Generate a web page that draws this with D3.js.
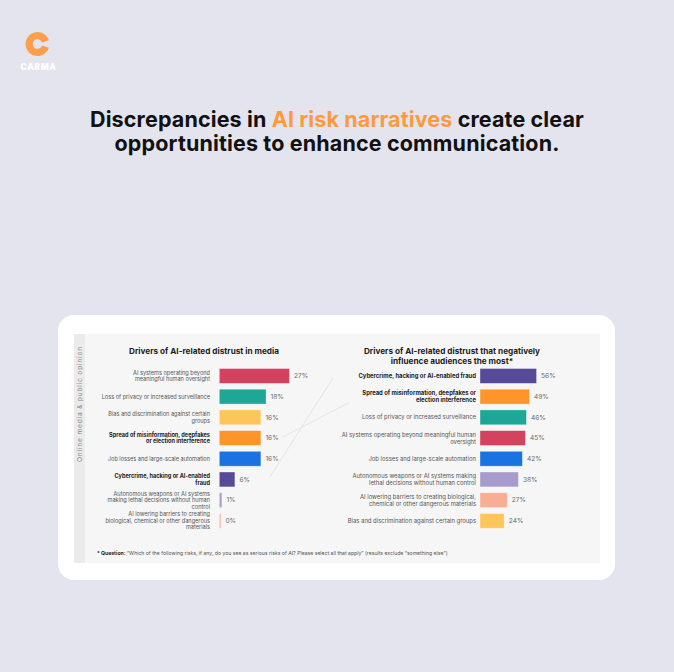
<!DOCTYPE html>
<html><head><meta charset="utf-8">
<script src="https://cdn.jsdelivr.net/npm/d3@7"></script>
<style>
html,body{margin:0;padding:0;background:#e4e4ef;}
svg{display:block;font-family:Inter,"Open Sans",sans-serif;}
</style></head>
<body>
<svg id="c" width="674" height="672"></svg>
<script>
// ---------- data ----------
const leftCategories = [
  "AI systems operating beyond\nmeaningful human oversight",
  "Loss of privacy or increased surveillance",
  "Bias and discrimination against certain\ngroups",
  "Spread of misinformation, deepfakes\nor election interference",
  "Job losses and large-scale automation",
  "Cybercrime, hacking or AI-enabled\nfraud",
  "Autonomous weapons or AI systems\nmaking lethal decisions without human\ncontrol",
  "AI lowering barriers to creating\nbiological, chemical or other dangerous\nmaterials"
];
const leftKeys = ["oversight","privacy","bias","misinfo","jobs","cyber","weapons","barriers"];
const leftValues = [27, 18, 16, 16, 16, 6, 1, 0];
const leftBold = [false, false, false, true, false, true, false, false];

const rightCategories = [
  "Cybercrime, hacking or AI-enabled fraud",
  "Spread of misinformation, deepfakes or\nelection interference",
  "Loss of privacy or increased surveillance",
  "AI systems operating beyond meaningful human\noversight",
  "Job losses and large-scale automation",
  "Autonomous weapons or AI systems making\nlethal decisions without human control",
  "AI lowering barriers to creating biological,\nchemical or other dangerous materials",
  "Bias and discrimination against certain groups"
];
const rightKeys = ["cyber","misinfo","privacy","oversight","jobs","weapons","barriers","bias"];
const rightValues = [56, 49, 46, 45, 42, 38, 27, 24];
const rightBold = [true, true, false, false, false, false, false, false];

const colorKeys = ["oversight","privacy","bias","misinfo","jobs","cyber","weapons","barriers"];
const colorValues = ["#d3435f","#1ea796","#fdc65b","#fd952b","#1b72e1","#574a98","#a79ccb","#f9ad95"];

const leftTitle = "Drivers of AI-related distrust in media";
const rightTitle = ["Drivers of AI-related distrust that negatively","influence audiences the most*"];
const sideLabel = "Online media & public opinion";
const footBold = "* Question:";
const footText = " \u201CWhich of the following risks, if any, do you see as serious risks of AI? Please select all that apply\u201D (results exclude \u201Csomething else\u201D)";
const headline1 = ["Discrepancies in ", "AI risk narratives", " create clear"];
const headline2 = "opportunities to enhance communication.";
const links = ["cyber","misinfo"];

// ---------- drawing ----------
const svg = d3.select("#c");
const color = d3.scaleOrdinal().domain(colorKeys).range(colorValues);

function fitWidth(sel, target){
  const w = sel.node().getComputedTextLength();
  const fs = parseFloat(sel.attr("font-size"));
  sel.attr("font-size", fs * target / w);
}
function fitSpacing(sel, target){
  sel.attr("letter-spacing", 0);
  const w = sel.node().getComputedTextLength();
  const n = sel.text().length;
  sel.attr("letter-spacing", (target - w) / n);
}

// logo
const logo = svg.append("g").attr("transform","translate(37.5,44)");
logo.append("path")
  .attr("d", d3.arc()({innerRadius:4.8, outerRadius:12, startAngle: Math.PI/2 + 0.32, endAngle: Math.PI*2.5 - 0.32}))
  .attr("fill","#fb9f4c");
svg.append("text").attr("x",38.5).attr("y",69.5).attr("text-anchor","middle")
  .attr("font-size",8.6).attr("font-weight",800).attr("fill","#fff").attr("letter-spacing",0.6)
  .text("CARMA");

// headline
const h1 = svg.append("text").attr("x",337).attr("y",126.5).attr("text-anchor","middle")
  .attr("font-size",21.5).attr("font-weight",700).attr("fill","#111");
headline1.forEach((t,i)=>h1.append("tspan").text(t).attr("fill", i===1 ? "#fd9a3c" : "#111"));
fitSpacing(h1, 494);
const h2 = svg.append("text").attr("x",337).attr("y",150.5).attr("text-anchor","middle")
  .attr("font-size",21.5).attr("font-weight",700).attr("fill","#111")
  .text(headline2);
fitSpacing(h2, 445);

// card
svg.append("rect").attr("x",58).attr("y",315).attr("width",557).attr("height",265).attr("rx",16).attr("fill","#fff");
svg.append("rect").attr("x",74).attr("y",334).attr("width",526).attr("height",229).attr("fill","#f6f6f6");
svg.append("rect").attr("x",74).attr("y",334).attr("width",11).attr("height",229).attr("fill","#ebebeb");
const side = svg.append("text").attr("transform","translate(81.5,404) rotate(-90)").attr("text-anchor","middle")
  .attr("font-size",6.6).attr("fill","#8a8a8a").text(sideLabel);
fitSpacing(side, 116);

// scales
const y = d3.scaleBand().domain(d3.range(8)).range([365.6, 531.2]).paddingInner(0.28).paddingOuter(0.14);
const xL = d3.scaleLinear().domain([0, 30]).range([219.3, 297.3]);
const xR = d3.scaleLinear().domain([0, 100]).range([480, 581]);

// connectors
const lineColor = "#dedede";
links.forEach((k,j)=>{
  const li = leftKeys.indexOf(k), ri = rightKeys.indexOf(k);
  const x1 = xL(leftValues[li]) + (j===0 ? 35 : 21);
  const y1 = y(li) + y.bandwidth()/2 - (j===0 ? 2.5 : 0.5);
  const x2 = xR(0) - (j===0 ? 147 : 131);
  const y2 = y(ri) + y.bandwidth()/2 + (j===0 ? 2 : 6);
  svg.append("line").attr("x1",x1).attr("y1",y1).attr("x2",x2).attr("y2",y2)
    .attr("stroke",lineColor).attr("stroke-width",0.8);
});

function drawChart(g, cats, keys, vals, bold, x, labelX, fs, lh){
  const rows = g.selectAll("g.row").data(cats).join("g").attr("class","row");
  rows.append("rect")
    .attr("x", x(0))
    .attr("y", (d,i)=>y(i))
    .attr("width", (d,i)=>Math.max(x(vals[i]) - x(0), 1.6))
    .attr("height", y.bandwidth())
    .attr("fill", (d,i)=>color(keys[i]))
    .attr("stroke", "rgba(255,255,255,0.45)").attr("stroke-width",0.8);
  rows.append("text")
    .attr("x", (d,i)=>Math.max(x(vals[i]), x(0)+1.6) + 4.5)
    .attr("y", (d,i)=>y(i) + y.bandwidth()/2)
    .attr("dy","0.35em").attr("font-size",6.6).attr("fill","#6a6a6a")
    .text((d,i)=>vals[i] + "%");
  rows.each(function(d,i){
    const lines = d.split("\n");
    const t = d3.select(this).append("text")
      .attr("text-anchor","end").attr("font-size",fs)
      .attr("font-weight", bold[i] ? 700 : 400)
      .attr("fill", bold[i] ? "#222" : "#555");
    const cy = y(i) + y.bandwidth()/2;
    lines.forEach((ln,k)=>{
      t.append("tspan").attr("x",labelX)
        .attr("y", cy + (k - (lines.length-1)/2)*lh)
        .attr("dy","0.35em").text(ln);
    });
  });
}

const gL = svg.append("g");
drawChart(gL, leftCategories, leftKeys, leftValues, leftBold, xL, 210, 5.6, 6.5);
const gR = svg.append("g");
drawChart(gR, rightCategories, rightKeys, rightValues, rightBold, xR, 476, 5.9, 7);

svg.append("text").attr("x",204).attr("y",354).attr("text-anchor","middle")
  .attr("font-size",8.2).attr("font-weight",700).attr("fill","#222").text(leftTitle);
rightTitle.forEach((t,i)=>{
  svg.append("text").attr("x",452).attr("y",354 + i*10).attr("text-anchor","middle")
    .attr("font-size",8.2).attr("font-weight",700).attr("fill","#222").text(t);
});

const ft = svg.append("text").attr("x",97).attr("y",554.5).attr("font-size",4.8).attr("fill","#555");
ft.append("tspan").attr("font-weight",700).attr("fill","#222").text(footBold);
ft.append("tspan").text(footText);
fitWidth(ft, 351);
</script>
</body></html>
